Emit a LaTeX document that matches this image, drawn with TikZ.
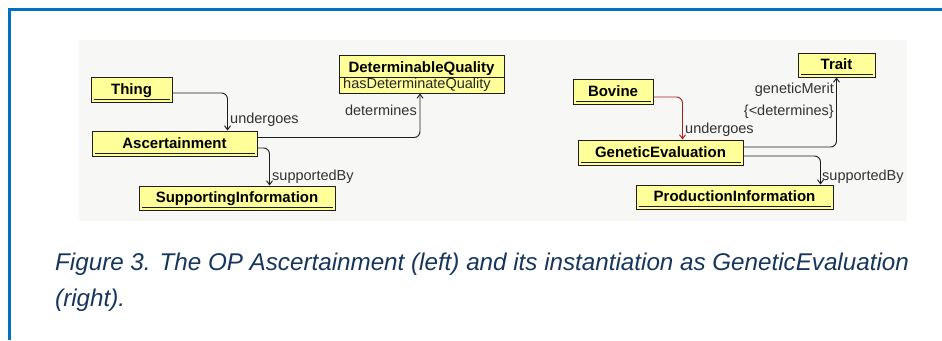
\documentclass[tikz,border=0pt]{standalone}
\usepackage{fontspec}
\setmainfont{Liberation Sans}
\usetikzlibrary{arrows.meta}
\definecolor{frameblue}{RGB}{0,112,192}
\definecolor{capblue}{RGB}{23,54,93}
\definecolor{classfill}{RGB}{255,255,153}
\definecolor{panelbg}{RGB}{247,247,245}
\definecolor{linkred}{RGB}{170,30,30}
\definecolor{inkgray}{RGB}{30,30,30}
\definecolor{labelgray}{RGB}{50,50,50}

\begin{document}
\begin{tikzpicture}[x=1pt,y=-1pt,
  plainclass/.style={draw=inkgray, line width=1pt, fill=classfill, inner sep=0pt,
    font=\fontsize{15}{18}\selectfont\bfseries, text height=10.7pt, text depth=1.5pt},
  classbox/.style={plainclass,
    path picture={\draw[inkgray, line width=0.7pt]
      ([xshift=2.5pt,yshift=2.6pt]path picture bounding box.south west) --
      ([xshift=-2.5pt,yshift=2.6pt]path picture bounding box.south east);}},
  link/.style={inkgray, line width=0.95pt, rounded corners=6pt,
    -{Straight Barb[length=4pt,width=6pt]}},
  rolelabel/.style={font=\fontsize{14.5}{17}\selectfont, text=labelgray, inner sep=0pt},
  caption/.style={anchor=base west, inner sep=0pt, text=capblue,
    font=\fontsize{24.2}{29}\selectfont\itshape},
]
\useasboundingbox (0,0) rectangle (942,340);
\fill[white] (0,0) rectangle (942,340);

% page frame
\draw[frameblue, line width=3pt] (9,340) -- (9,9.5) -- (942,9.5);

% diagram panel
\fill[panelbg] (79,40) rectangle (907,221);

% --- pattern: Ascertainment ---
\node[classbox, minimum width=81pt, minimum height=25pt] (thing) at (131.5,89.5) {Thing};
\node[classbox, minimum width=165pt, minimum height=25pt] (asc) at (174.5,143.5) {Ascertainment};
\node[classbox, minimum width=196pt, minimum height=24pt] (supp) at (237,198) {SupportingInformation};
\node[plainclass, minimum width=165pt, minimum height=38pt] (dq) at (421.5,74) {};
\node[plainclass, draw=none, fill=none, anchor=base] (dqname) at (421.5,72.5) {DeterminableQuality};
\node[rolelabel, anchor=base west, text=black!85] (dqattr) at (343,88.5) {hasDeterminateQuality};
\draw[inkgray, line width=0.7pt] (dq.west |- 0,77) -- (dq.east |- 0,77);

\draw[link] ([yshift=-3.5pt]thing.east) -| ([xshift=136pt]asc.north west);
\node[rolelabel, anchor=west] (undA) at (230,120) {undergoes};
\draw[link] ([yshift=6pt]asc.east) -| ([xshift=-1.5pt]dq.south);
\node[rolelabel, anchor=east] (detA) at (417,110) {determines};
\draw[link] ([yshift=-4.5pt]asc.east) -| ([xshift=131pt]supp.north west);
\node[rolelabel, anchor=west] (supA) at (272,177) {supportedBy};

% --- instantiation: GeneticEvaluation ---
\node[classbox, minimum width=80pt, minimum height=25pt] (bovine) at (613,91.5) {Bovine};
\node[classbox, minimum width=165pt, minimum height=25pt] (geval) at (660.5,152.5) {GeneticEvaluation};
\node[classbox, minimum width=77pt, minimum height=24pt] (trait) at (836.5,65) {Trait};
\node[classbox, minimum width=197pt, minimum height=24pt] (prod) at (734.5,197) {ProductionInformation};

\draw[link, linkred] ([yshift=-5.5pt]bovine.east) -| ([xshift=105pt]geval.north west);
\node[rolelabel, anchor=west] (undB) at (685,130) {undergoes};
\draw[link] ([yshift=5.5pt]geval.east) -| (trait.south);
\node[rolelabel, anchor=east] (meritB) at (834,90) {geneticMerit};
\node[rolelabel, anchor=east] (detB) at (834,112) {\{<determines\}};
\draw[link] ([yshift=-3.5pt]geval.east) -| ([xshift=-13pt]prod.north east);
\node[rolelabel, anchor=west] (supB) at (822,177) {supportedBy};

% caption
\node[caption] (capA) at (55,270) {Figure 3. The OP Ascertainment (left) and its instantiation as GeneticEvaluation};
\node[caption] (capB) at (55,306) {(right).};
\end{tikzpicture}
\end{document}
